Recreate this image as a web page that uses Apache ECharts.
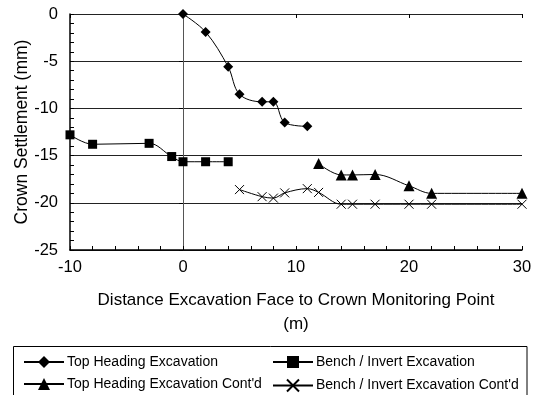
<!DOCTYPE html>
<html>
<head>
<meta charset="utf-8">
<script src="https://cdn.jsdelivr.net/npm/echarts@6/dist/echarts.min.js"></script>
<style>
  html, body { margin: 0; padding: 0; background: #fff; }
  #chart { width: 534px; height: 395px; }
</style>
</head>
<body>
<div id="chart"></div>
<script>
// Crown settlement (mm) against distance from excavation face (m)
var topHeading = [[0, 0], [2, -1.9], [4, -5.6], [5, -8.5], [7, -9.3], [8, -9.3], [9, -11.5], [11, -11.9]];
var benchInvert = [[-10, -12.8], [-8, -13.8], [-3, -13.7], [-1, -15.1], [0, -15.65], [2, -15.65], [4, -15.65]];
var topHeadingCont = [[12, -15.85], [14, -17.05], [15, -17.05], [17, -17.0], [20, -18.2], [22, -19.0], [30, -19.0]];
var benchInvertCont = [[5, -18.6], [7, -19.35], [8, -19.5], [9, -18.95], [11, -18.5], [12, -18.9], [14, -20.15], [15, -20.15], [17, -20.15], [20, -20.15], [22, -20.15], [30, -20.15]];

var seriesNames = ['Top Heading Excavation', 'Bench / Invert Excavation', 'Top Heading Excavation Cont\'d', 'Bench / Invert Excavation Cont\'d'];
var xTicks = [-10, 0, 10, 20, 30];
var yTicks = [-25, -20, -15, -10, -5, 0];

var FONT = 'Liberation Sans, Arial, sans-serif';
var crossPath = 'path://M0,0L10,10M10,0L0,10';

function lineSeries(name, data, symbol, size, extra) {
  var s = {
    name: name,
    type: 'line',
    data: data,
    smooth: 0.35,
    symbol: symbol,
    symbolSize: size,
    showAllSymbol: true,
    lineStyle: { color: '#000', width: 1 },
    itemStyle: { color: '#000', borderColor: '#000', borderWidth: 0 },
    emphasis: { disabled: true },
    animation: false,
    z: 5
  };
  if (extra) { for (var k in extra) s[k] = extra[k]; }
  return s;
}

var chart = echarts.init(document.getElementById('chart'), null, { renderer: 'canvas' });

var legendCommon = {
  orient: 'horizontal',
  itemWidth: 40,
  itemHeight: 15,
  itemGap: 0,
  selectedMode: false,
  textStyle: { fontFamily: FONT, fontSize: 14, color: '#000', padding: [0, 0, 0, -2] }
};
function legendAt(name, left, top) {
  var l = { data: [name], left: left, top: top, padding: 0 };
  for (var k in legendCommon) l[k] = legendCommon[k];
  return l;
}

var tickStyle = { color: '#000', width: 1 };

chart.setOption({
  backgroundColor: '#fff',
  animation: false,
  grid: { left: 70, right: 12, top: 14, bottom: 145, containLabel: false, outerBoundsMode: 'none' },
  xAxis: [{
    type: 'value',
    min: -10, max: 30, interval: 10,
    axisLine: { show: true, onZero: false, lineStyle: { color: '#000', width: 1.5 } },
    axisTick: { show: true, inside: true, length: 4, lineStyle: tickStyle },
    minorTick: { show: true, splitNumber: 5, length: 4, lineStyle: tickStyle },
    splitLine: { show: false },
    axisLabel: {
      fontFamily: FONT, fontSize: 16.5, color: '#000', margin: 9,
      formatter: function (v) { return xTicks.indexOf(v) >= 0 ? String(v) : ''; }
    },
    name: 'Distance Excavation Face to Crown Monitoring Point\n(m)',
    nameLocation: 'middle',
    nameGap: 38,
    nameMoveOverlap: false,
    nameTextStyle: { fontFamily: FONT, fontSize: 17, color: '#000', lineHeight: 24 }
  }, {
    // outer half of the major x ticks
    type: 'value', position: 'bottom',
    min: -10, max: 30, interval: 10,
    axisLine: { show: false },
    axisTick: { show: true, inside: false, length: 4, lineStyle: tickStyle },
    axisLabel: { show: false },
    splitLine: { show: false }
  }],
  yAxis: [{
    type: 'value',
    min: -25, max: 0, interval: 5,
    axisLine: { show: true, onZero: false, lineStyle: { color: '#000', width: 1.5 } },
    axisTick: { show: true, inside: true, length: 4, lineStyle: tickStyle },
    minorTick: { show: true, splitNumber: 5, length: 4, lineStyle: tickStyle },
    splitLine: { show: true, lineStyle: { color: '#222', width: 1 } },
    axisLabel: {
      fontFamily: FONT, fontSize: 16.5, color: '#000', margin: 12,
      formatter: function (v) { return yTicks.indexOf(v) >= 0 ? String(v) : ''; }
    },
    name: 'Crown Settlement (mm)',
    nameLocation: 'middle',
    nameGap: 39,
    nameMoveOverlap: false,
    nameTextStyle: { fontFamily: FONT, fontSize: 17.5, color: '#000' }
  }, {
    // outer half of the major y ticks
    type: 'value', position: 'left', offset: 0,
    min: -25, max: 0, interval: 5,
    axisLine: { show: false },
    axisTick: { show: true, inside: false, length: 4, lineStyle: tickStyle },
    axisLabel: { show: false },
    splitLine: { show: false }
  }, {
    // right-hand frame line
    type: 'value', position: 'right',
    min: -25, max: 0, interval: 5,
    axisLine: { show: true, lineStyle: { color: '#555', width: 1 } },
    axisTick: { show: false },
    axisLabel: { show: false },
    splitLine: { show: false }
  }],
  legend: [
    legendAt(seriesNames[0], 23, 355),
    legendAt(seriesNames[1], 272, 355),
    legendAt(seriesNames[2], 23, 377),
    legendAt(seriesNames[3], 272, 377)
  ],
  graphic: [{
    type: 'rect',
    shape: { x: 13.5, y: 346.5, width: 513.5, height: 60 },
    style: { fill: 'none', stroke: '#000', lineWidth: 1 },
    z: 0
  }],
  series: [
    lineSeries(seriesNames[0], topHeading, 'diamond', 10),
    lineSeries(seriesNames[1], benchInvert, 'rect', 9),
    lineSeries(seriesNames[2], topHeadingCont, 'triangle', 11),
    lineSeries(seriesNames[3], benchInvertCont, crossPath, 9, {
      itemStyle: { color: 'none', borderColor: '#000', borderWidth: 1 }
    })
  ]
});
</script>
</body>
</html>
